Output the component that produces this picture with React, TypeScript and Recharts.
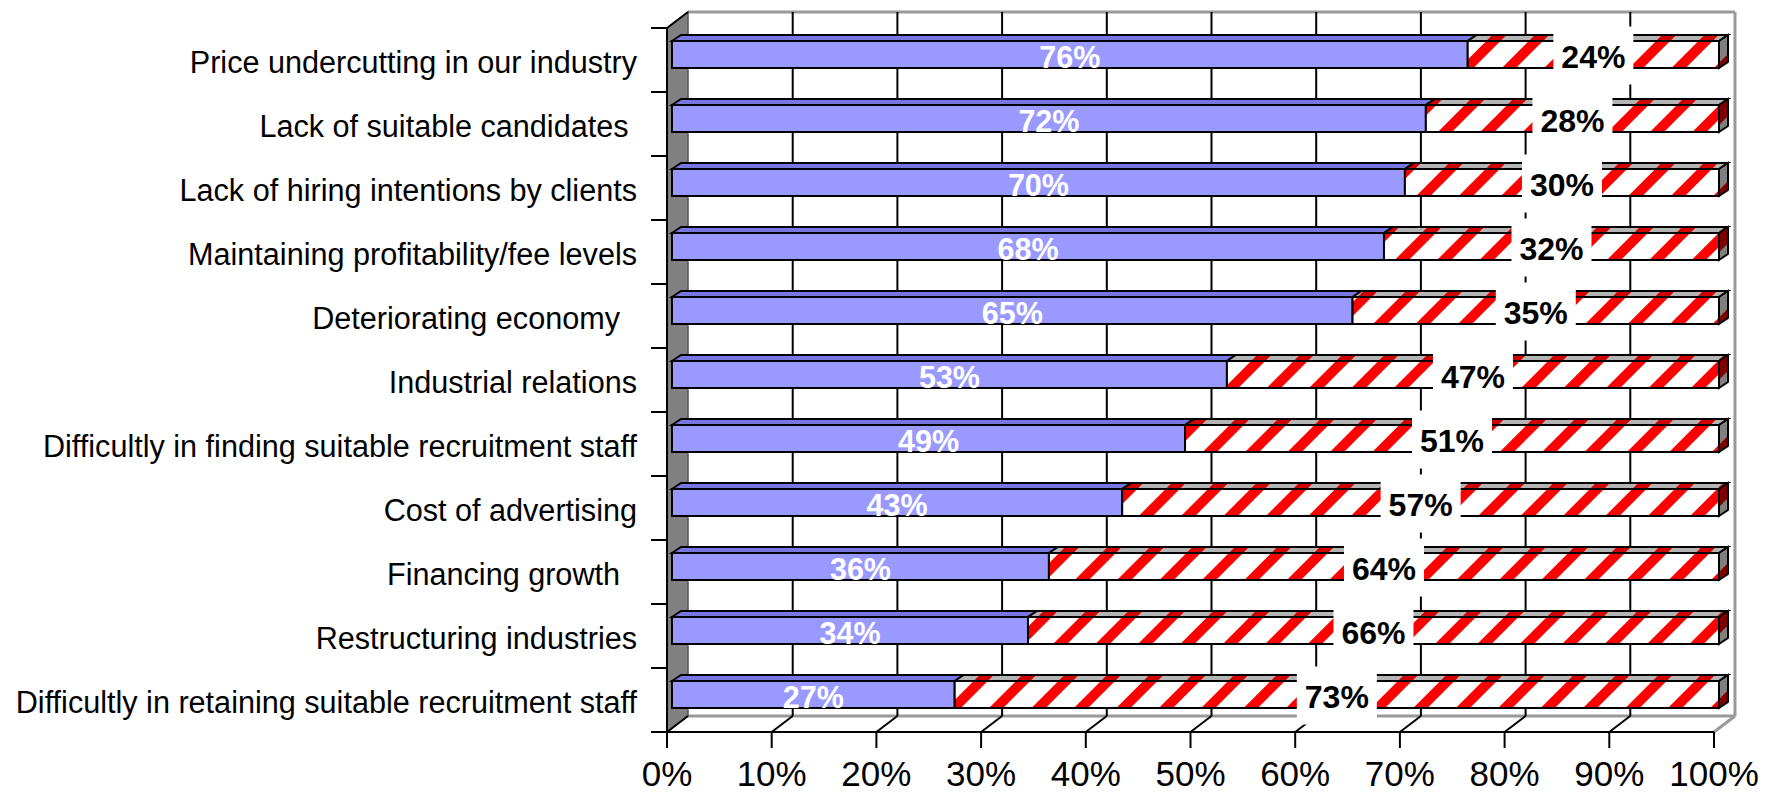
import { Bar, BarChart, CartesianGrid, LabelList, XAxis, YAxis } from "recharts";

const categories = [
  "Price undercutting in our industry",
  "Lack of suitable candidates ",
  "Lack of hiring intentions by clients",
  "Maintaining profitability/fee levels",
  "Deteriorating economy  ",
  "Industrial relations",
  "Difficultly in finding suitable recruitment staff",
  "Cost of advertising",
  "Financing growth  ",
  "Restructuring industries",
  "Difficultly in retaining suitable recruitment staff",
];
const yesShares = [76, 72, 70, 68, 65, 53, 49, 43, 36, 34, 27];
const noShares = [24, 28, 30, 32, 35, 47, 51, 57, 64, 66, 73];
const percentTicks = [0, 10, 20, 30, 40, 50, 60, 70, 80, 90, 100];

const data = categories.map((name, i) => ({ name, yes: yesShares[i], no: noShares[i] }));

const FONT = '"Liberation Sans", Arial, sans-serif';
const W = 1769;
const H = 794;
// front plane of the plot area
const LEFT = 667;
const TOP = 28;
const RIGHT = 1714;
const BOTTOM = 732;
// depth of the walls
const DX = 21;
const DY = -16;
// bars sit a little into the depth and have their own thickness
const BAR_OX = 5;
const BAR_OY = -6;
const BAR_DX = 9;
const BAR_DY = -6;

const slab = (front: string, topFill: string, endFill?: string) => (props: any) => {
  const x = props.x + BAR_OX;
  const y = props.y + BAR_OY;
  const w = props.width;
  const h = props.height;
  return (
    <g>
      <polygon
        points={`${x},${y} ${x + BAR_DX},${y + BAR_DY} ${x + w + BAR_DX},${y + BAR_DY} ${x + w},${y}`}
        fill={topFill}
        stroke="#000"
        strokeWidth={2}
      />
      {endFill && (
        <polygon
          points={`${x + w},${y} ${x + w + BAR_DX},${y + BAR_DY} ${x + w + BAR_DX},${y + h + BAR_DY} ${x + w},${y + h}`}
          fill={endFill}
          stroke="#000"
          strokeWidth={2}
        />
      )}
      <rect x={x} y={y} width={w} height={h} fill={front} stroke="#000" strokeWidth={2} />
    </g>
  );
};

const box = (p: any) => {
  const vb = p.viewBox && p.viewBox.width != null ? p.viewBox : p;
  return { cx: vb.x + BAR_OX + vb.width / 2, cy: vb.y + BAR_OY + vb.height / 2 };
};

const yesLabel = (p: any) => {
  const { cx, cy } = box(p);
  return (
    <text x={cx} y={cy + 13} textAnchor="middle" fill="#fff" fontWeight="bold" fontSize={30.5} fontFamily={FONT}>
      {p.value}%
    </text>
  );
};

const noLabel = (p: any) => {
  const { cx, cy } = box(p);
  return (
    <g>
      <rect x={cx - 40} y={cy - 28} width={80} height={58} fill="#fff" />
      <text x={cx} y={cy + 13} textAnchor="middle" fill="#000" fontWeight="bold" fontSize={32} fontFamily={FONT}>
        {p.value}%
      </text>
    </g>
  );
};

const CategoryTick = (props: any) => {
  const { y, payload, index } = props;
  const half = payload.offset ?? (BOTTOM - TOP) / categories.length / 2;
  return (
    <g>
      <line x1={LEFT - 16} x2={LEFT} y1={y - half} y2={y - half} stroke="#000" strokeWidth={2} />
      {index === categories.length - 1 && (
        <line x1={LEFT - 16} x2={LEFT} y1={y + half} y2={y + half} stroke="#000" strokeWidth={2} />
      )}
      <text
        x={637}
        y={y + 12.5}
        textAnchor="end"
        fill="#000"
        fontSize={30.6}
        fontFamily={FONT}
        style={{ whiteSpace: "pre" }}
      >
        {payload.value}
      </text>
    </g>
  );
};

// back-wall gridline plus its continuation across the floor
const wallLine = (props: any) => {
  const { x1, y1, y2, index } = props;
  const last = index === percentTicks.length - 1 || x1 >= RIGHT - 1;
  if (last) return <g key={`w-${index}`} />;
  return (
    <g key={`w-${index}`}>
      {index !== 0 && x1 > LEFT + 1 && (
        <line x1={x1 + DX} x2={x1 + DX} y1={y1 + DY} y2={y2 + DY} stroke="#000" strokeWidth={2} />
      )}
      <line x1={x1} y1={y2} x2={x1 + DX} y2={y2 + DY} stroke="#000" strokeWidth={2} />
    </g>
  );
};

export default function App() {
  return (
    <div style={{ position: "absolute", left: 0, top: 0, width: W, height: H, background: "#fff", fontFamily: FONT }}>
      <svg width={W} height={H} style={{ position: "absolute", left: 0, top: 0 }}>
        <line x1={LEFT + DX} y1={TOP + DY} x2={RIGHT + DX} y2={TOP + DY} stroke="#999" strokeWidth={3} />
        <line x1={RIGHT + DX} y1={TOP + DY} x2={RIGHT + DX} y2={BOTTOM + DY} stroke="#999" strokeWidth={3} />
        <line x1={LEFT + DX} y1={BOTTOM + DY} x2={RIGHT + DX} y2={BOTTOM + DY} stroke="#999" strokeWidth={3} />
        <line x1={RIGHT + DX} y1={BOTTOM + DY} x2={RIGHT} y2={BOTTOM} stroke="#999" strokeWidth={3} />
        <polygon
          points={`${LEFT},${TOP} ${LEFT + DX},${TOP + DY} ${LEFT + DX},${BOTTOM + DY} ${LEFT},${BOTTOM}`}
          fill="#808080"
          stroke="#555"
          strokeWidth={1.5}
        />
        <line x1={LEFT} y1={TOP} x2={LEFT + DX} y2={TOP + DY} stroke="#000" strokeWidth={2} />
      </svg>
      <div style={{ position: "absolute", left: 0, top: 0 }}>
        <BarChart
          width={W}
          height={H}
          data={data}
          layout="vertical"
          barSize={27}
          margin={{ top: TOP, right: W - RIGHT, bottom: 0, left: 0 }}
        >
          <defs>
            <pattern id="stripes" patternUnits="userSpaceOnUse" width={30} height={30} patternTransform="rotate(45)">
              <rect width={30} height={30} fill="#fff" />
              <rect width={10} height={30} fill="#ff0000" />
            </pattern>
            <pattern id="stripesTop" patternUnits="userSpaceOnUse" width={30} height={30} patternTransform="rotate(45)">
              <rect width={30} height={30} fill="#b4b4b4" />
              <rect width={10} height={30} fill="#d00000" />
            </pattern>
            <pattern id="stripesEnd" patternUnits="userSpaceOnUse" width={30} height={30} patternTransform="rotate(45)">
              <rect width={30} height={30} fill="#808080" />
              <rect width={14} height={30} fill="#800000" />
            </pattern>
          </defs>
          <CartesianGrid horizontal={false} vertical={wallLine} stroke="#000" />
          <XAxis
            type="number"
            domain={[0, 100]}
            ticks={percentTicks}
            interval={0}
            tickFormatter={(v) => `${v}%`}
            axisLine={{ stroke: "#000", strokeWidth: 2 }}
            tickLine={{ stroke: "#000", strokeWidth: 2 }}
            tickSize={16}
            tickMargin={13}
            tick={{ fill: "#000", fontSize: 35, fontFamily: FONT }}
            height={62}
          />
          <YAxis
            type="category"
            dataKey="name"
            width={LEFT}
            interval={0}
            axisLine={{ stroke: "#000", strokeWidth: 2 }}
            tickLine={false}
            tick={CategoryTick}
          />
          <Bar dataKey="yes" stackId="a" isAnimationActive={false} shape={slab("#9999ff", "#7777dd")}>
            <LabelList dataKey="yes" content={yesLabel} />
          </Bar>
          <Bar
            dataKey="no"
            stackId="a"
            isAnimationActive={false}
            shape={slab("url(#stripes)", "url(#stripesTop)", "url(#stripesEnd)")}
          >
            <LabelList dataKey="no" content={noLabel} />
          </Bar>
        </BarChart>
      </div>
    </div>
  );
}
